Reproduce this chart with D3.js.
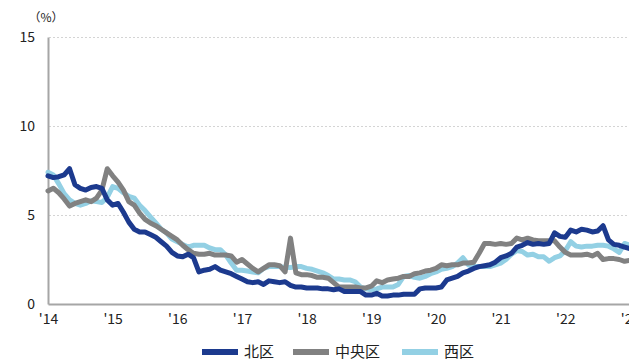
<!DOCTYPE html>
<html>
<head>
<meta charset="utf-8">
<script src="https://cdn.jsdelivr.net/npm/d3@7"></script>
<style>
  body { margin: 0; background: #fff; }
  svg { display: block; font-family: "Noto Sans CJK JP", "Noto Sans", sans-serif; }
</style>
</head>
<body>
<svg width="629" height="360"></svg>
<script>
// monthly vacancy rate (%), Jan 2014 .. Jan 2023
var startYear = 2014;
var yearTicks = [2014, 2015, 2016, 2017, 2018, 2019, 2020, 2021, 2022, 2023];
var yTicks = [0, 5, 10, 15];

var kita = [7.2, 7.1, 7.15, 7.25, 7.6, 6.7, 6.5, 6.4, 6.55, 6.6, 6.5, 5.85,
  5.55, 5.65, 5.15, 4.6, 4.2, 4.05, 4.05, 3.9, 3.75, 3.5, 3.25, 2.9,
  2.7, 2.65, 2.8, 2.6, 1.8, 1.9, 1.95, 2.1, 1.9, 1.8, 1.7, 1.55,
  1.4, 1.25, 1.2, 1.25, 1.1, 1.3, 1.25, 1.2, 1.25, 1.05, 0.95, 0.95,
  0.9, 0.9, 0.9, 0.85, 0.85, 0.8, 0.85, 0.7, 0.7, 0.7, 0.7, 0.5,
  0.5, 0.6, 0.45, 0.45, 0.5, 0.5, 0.55, 0.55, 0.55, 0.85, 0.9, 0.9,
  0.9, 0.95, 1.35, 1.45, 1.55, 1.75, 1.85, 2.0, 2.1, 2.15, 2.2, 2.35,
  2.6, 2.7, 2.85, 3.2, 3.3, 3.45, 3.35, 3.4, 3.35, 3.4, 4.0, 3.8,
  3.75, 4.15, 4.05, 4.2, 4.15, 4.05, 4.1, 4.4, 3.6, 3.35, 3.3, 3.2,
  3.1];

var chuo = [6.35, 6.5, 6.25, 5.9, 5.5, 5.65, 5.75, 5.85, 5.75, 5.95, 6.4, 7.6,
  7.2, 6.85, 6.4, 5.75, 5.55, 5.1, 4.75, 4.55, 4.4, 4.2, 4.0, 3.8,
  3.6, 3.3, 3.05, 2.85, 2.8, 2.8, 2.85, 2.75, 2.75, 2.75, 2.7, 2.35,
  2.5, 2.25, 2.0, 1.8, 2.0, 2.2, 2.2, 2.15, 1.8, 3.7, 1.75, 1.65,
  1.65, 1.6, 1.5, 1.5, 1.45, 1.2, 0.95, 0.95, 0.95, 0.95, 0.9, 0.9,
  1.0, 1.3, 1.2, 1.35, 1.4, 1.45, 1.55, 1.55, 1.7, 1.75, 1.85, 1.9,
  2.0, 2.2, 2.15, 2.2, 2.2, 2.3, 2.3, 2.35, 2.85, 3.4, 3.4, 3.35,
  3.4, 3.35, 3.4, 3.7, 3.6, 3.7, 3.6, 3.55, 3.55, 3.55, 3.55, 3.2,
  2.9, 2.75, 2.75, 2.75, 2.8, 2.7, 2.85, 2.5, 2.55, 2.55, 2.5, 2.4,
  2.45];

var nishi = [7.4, 7.25, 6.75, 6.2, 5.85, 5.65, 5.55, 5.65, 5.8, 5.75, 5.7, 6.0,
  6.6, 6.5, 6.25, 6.05, 5.95, 5.55, 5.25, 4.9, 4.55, 4.2, 4.0, 3.65,
  3.5, 3.35, 3.2, 3.3, 3.3, 3.3, 3.15, 3.05, 3.05, 2.75, 2.3, 1.9,
  1.9, 1.85, 1.8, 1.75, 2.0, 2.1, 2.1, 2.1, 2.05, 2.05, 2.1, 2.1,
  2.0, 1.95, 1.85, 1.75, 1.6, 1.4, 1.4, 1.35, 1.35, 1.25, 0.95, 0.85,
  0.8, 0.85, 0.95, 0.95, 0.95, 1.1, 1.55, 1.6, 1.5, 1.45, 1.55, 1.7,
  1.8, 1.95, 2.0, 2.1, 2.3, 2.6, 2.2, 2.1, 2.1, 2.1, 2.1, 2.2,
  2.3, 2.5, 2.8, 3.0, 2.95, 2.75, 2.8, 2.65, 2.65, 2.4, 2.6, 2.7,
  3.0, 3.5, 3.25, 3.2, 3.25, 3.25, 3.3, 3.3, 3.25, 3.1, 2.9, 3.4,
  3.3];

var seriesNames = ["北区", "中央区", "西区"];
var seriesColors = ["#1c3a8e", "#818181", "#93d0e4"];
var seriesData = [kita, chuo, nishi];

var svg = d3.select("svg");

var x = d3.scaleLinear()
  .domain([2014, 2023])
  .range([48, 630]);
var y = d3.scaleLinear()
  .domain([0, 15])
  .range([304, 37]);

// grid lines
svg.append("g")
  .selectAll("line")
  .data(yTicks.filter(function(d) { return d > 0; }))
  .enter().append("line")
  .attr("x1", 49).attr("x2", 629)
  .attr("y1", function(d) { return y(d) + 0.5; })
  .attr("y2", function(d) { return y(d) + 0.5; })
  .attr("stroke", "#d4d4d4")
  .attr("stroke-width", 1)
  .attr("stroke-dasharray", "2,2");

// y axis
var yAxis = svg.append("g")
  .attr("transform", "translate(48,0)")
  .call(d3.axisLeft(y).tickValues(yTicks).tickSize(0).tickPadding(13));
yAxis.select(".domain").attr("stroke", "#a6a6a6").attr("stroke-width", 2);
yAxis.selectAll("text").attr("font-size", 14).attr("fill", "#222")
  .attr("font-family", "Noto Sans CJK JP");

svg.append("text")
  .attr("x", 46).attr("y", 22)
  .attr("text-anchor", "middle")
  .attr("font-size", 12).attr("fill", "#222")
  .text("（%）");

// x axis
var xAxis = svg.append("g")
  .attr("transform", "translate(0,304)")
  .call(d3.axisBottom(x).tickValues(yearTicks).tickSize(0).tickPadding(10)
    .tickFormat(function(d) { return "'" + String(d).slice(2); }));
xAxis.select(".domain").attr("stroke", "#a6a6a6").attr("stroke-width", 2);
xAxis.selectAll("text").attr("font-size", 14).attr("fill", "#222")
  .attr("font-family", "Noto Sans CJK JP");

// lines
var line = d3.line()
  .x(function(d, i) { return x(startYear + i / 12); })
  .y(function(d) { return y(d); });

var order = [2, 1, 0];
svg.append("g")
  .selectAll("path")
  .data(order)
  .enter().append("path")
  .attr("d", function(k) { return line(seriesData[k]); })
  .attr("fill", "none")
  .attr("stroke", function(k) { return seriesColors[k]; })
  .attr("stroke-width", 5)
  .attr("stroke-linejoin", "round")
  .attr("stroke-linecap", "round");

// legend
var legendX = [202, 293, 402];
var legend = svg.append("g")
  .selectAll("g")
  .data(seriesNames)
  .enter().append("g")
  .attr("transform", function(d, i) { return "translate(" + legendX[i] + ",352)"; });
legend.append("line")
  .attr("x1", 0).attr("x2", 36)
  .attr("stroke", function(d, i) { return seriesColors[i]; })
  .attr("stroke-width", 6);
legend.append("text")
  .attr("x", 42).attr("dy", "0.33em")
  .attr("font-size", 15).attr("fill", "#222")
  .text(function(d) { return d; });
</script>
</body>
</html>
